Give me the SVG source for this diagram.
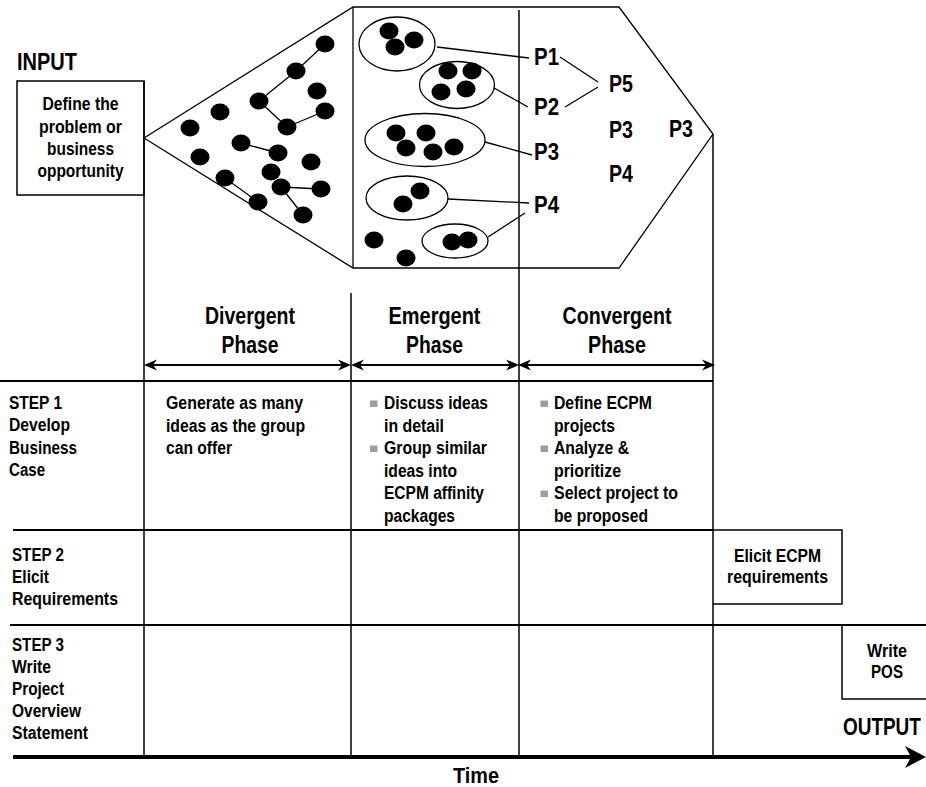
<svg xmlns="http://www.w3.org/2000/svg" width="926" height="787" viewBox="0 0 926 787">
<defs>
<style>
text { font-family: "Liberation Sans", Arial, sans-serif; font-weight: bold; fill: #000; }
.b { font-size: 18px; }
.big { font-size: 24px; }
.p { font-size: 23px; }
.c { text-anchor: middle; }
.ln { stroke: #000; stroke-width: 1.5; fill: none; }
.hl { stroke: #000; stroke-width: 2; fill: none; }
.th { stroke: #000; stroke-width: 1.3; fill: none; }
.arr { stroke: #000; stroke-width: 2; fill: none; marker-start: url(#ah); marker-end: url(#ah); }
.dot { fill: #000; }
.bul { fill: #9e9e9e; }
</style>
<marker id="ah" viewBox="-14 -6 15 12" refX="-3" refY="0" markerWidth="15" markerHeight="12" markerUnits="userSpaceOnUse" orient="auto-start-reverse">
<path d="M0,0 L-13,-5.5 L-9,0 L-13,5.5 Z" fill="#000"/>
</marker>
</defs>
<rect width="926" height="787" fill="#fff"/>

<g id="grid">
<line class="ln" x1="144" y1="81" x2="144" y2="757"/>
<line class="ln" x1="351" y1="293" x2="351" y2="757"/>
<line class="ln" x1="519" y1="10" x2="519" y2="757"/>
<line class="ln" x1="713" y1="134" x2="713" y2="757"/>
<line class="hl" x1="0" y1="381" x2="713" y2="381"/>
<line class="hl" x1="13" y1="530" x2="713" y2="530"/>
<line class="hl" x1="10" y1="625" x2="926" y2="625"/>
</g>

<g id="funnel">
<polyline class="th" points="144,138 353,7 619,7 713,134 619,268 353,268 144,138"/>
<line class="th" x1="353" y1="7" x2="353" y2="268"/>
</g>

<g id="divergent-ideas">
<g class="th">
<line x1="325" y1="44" x2="296" y2="71"/>
<line x1="296" y1="71" x2="259" y2="101"/>
<line x1="259" y1="101" x2="287" y2="127"/>
<line x1="287" y1="127" x2="325" y2="111"/>
<line x1="241" y1="143" x2="278" y2="153"/>
<line x1="225" y1="178" x2="258" y2="202"/>
<line x1="281" y1="187" x2="321" y2="189"/>
<line x1="281" y1="187" x2="303" y2="215"/>
</g>
<g class="dot">
<ellipse cx="325" cy="44" rx="9.5" ry="8.5"/>
<ellipse cx="296" cy="71" rx="9.5" ry="8.5"/>
<ellipse cx="317" cy="91" rx="9.5" ry="8.5"/>
<ellipse cx="259" cy="101" rx="9.5" ry="8.5"/>
<ellipse cx="325" cy="111" rx="9.5" ry="8.5"/>
<ellipse cx="220" cy="112" rx="9.5" ry="8.5"/>
<ellipse cx="190" cy="128" rx="9.5" ry="8.5"/>
<ellipse cx="287" cy="127" rx="9.5" ry="8.5"/>
<ellipse cx="241" cy="143" rx="9.5" ry="8.5"/>
<ellipse cx="278" cy="153" rx="9.5" ry="8.5"/>
<ellipse cx="200" cy="157" rx="9.5" ry="8.5"/>
<ellipse cx="311" cy="162" rx="9.5" ry="8.5"/>
<ellipse cx="271" cy="172" rx="9.5" ry="8.5"/>
<ellipse cx="225" cy="178" rx="9.5" ry="8.5"/>
<ellipse cx="281" cy="187" rx="9.5" ry="8.5"/>
<ellipse cx="321" cy="189" rx="9.5" ry="8.5"/>
<ellipse cx="258" cy="202" rx="9.5" ry="8.5"/>
<ellipse cx="303" cy="215" rx="9.5" ry="8.5"/>
</g>
</g>

<g id="emergent-groups">
<g class="th">
<ellipse cx="397" cy="44" rx="38" ry="27"/>
<ellipse cx="457" cy="85" rx="37.5" ry="23.5"/>
<ellipse cx="425" cy="140" rx="60" ry="26.5"/>
<ellipse cx="407" cy="198" rx="41" ry="22"/>
<ellipse cx="455" cy="241" rx="33" ry="17"/>
</g>
<g class="dot">
<ellipse cx="389" cy="31" rx="9.5" ry="8.5"/>
<ellipse cx="414" cy="40" rx="9.5" ry="8.5"/>
<ellipse cx="395" cy="47" rx="9.5" ry="8.5"/>
<ellipse cx="448" cy="71" rx="9.5" ry="8.5"/>
<ellipse cx="472" cy="71" rx="9.5" ry="8.5"/>
<ellipse cx="441" cy="92" rx="9.5" ry="8.5"/>
<ellipse cx="466" cy="89" rx="9.5" ry="8.5"/>
<ellipse cx="396" cy="133" rx="9.5" ry="8.5"/>
<ellipse cx="426" cy="133" rx="9.5" ry="8.5"/>
<ellipse cx="406" cy="148" rx="9.5" ry="8.5"/>
<ellipse cx="433" cy="152" rx="9.5" ry="8.5"/>
<ellipse cx="454" cy="147" rx="9.5" ry="8.5"/>
<ellipse cx="420" cy="191" rx="9.5" ry="8.5"/>
<ellipse cx="403" cy="204" rx="9.5" ry="8.5"/>
<ellipse cx="452" cy="242" rx="9.5" ry="8.5"/>
<ellipse cx="468" cy="240" rx="9.5" ry="8.5"/>
<ellipse cx="374" cy="240" rx="9.5" ry="8.5"/>
<ellipse cx="406" cy="258" rx="9.5" ry="8.5"/>
</g>
</g>

<g id="connectors">
<g class="th">
<line x1="437" y1="47" x2="529" y2="58"/>
<line x1="494" y1="88" x2="528" y2="107"/>
<line x1="485" y1="142" x2="532" y2="155"/>
<line x1="448" y1="199" x2="529" y2="203"/>
<line x1="488" y1="237" x2="525" y2="213"/>
<line x1="560" y1="57" x2="598" y2="82"/>
<line x1="565" y1="107" x2="598" y2="87"/>
</g>
<line class="arr" x1="147" y1="365" x2="348" y2="365"/>
<line class="arr" x1="354" y1="365" x2="516" y2="365"/>
<line class="arr" x1="521" y1="365" x2="712" y2="365"/>
<line x1="13" y1="757" x2="912" y2="757" stroke="#000" stroke-width="4"/>
<path d="M926,757 L905,746 L911,757 L905,768 Z" fill="#000"/>
</g>

<g id="p-labels">
<text class="p" x="534" y="65" textLength="25" lengthAdjust="spacingAndGlyphs">P1</text>
<text class="p" x="534" y="115" textLength="25" lengthAdjust="spacingAndGlyphs">P2</text>
<text class="p" x="534" y="160" textLength="25" lengthAdjust="spacingAndGlyphs">P3</text>
<text class="p" x="534" y="213" textLength="25" lengthAdjust="spacingAndGlyphs">P4</text>
<text class="p" x="609" y="92" textLength="24" lengthAdjust="spacingAndGlyphs">P5</text>
<text class="p" x="609" y="138" textLength="24" lengthAdjust="spacingAndGlyphs">P3</text>
<text class="p" x="609" y="182" textLength="24" lengthAdjust="spacingAndGlyphs">P4</text>
<text class="p" x="669" y="137" textLength="24" lengthAdjust="spacingAndGlyphs">P3</text>
</g>

<g id="input">
<text class="big" x="17" y="70" textLength="60" lengthAdjust="spacingAndGlyphs">INPUT</text>
<rect x="17" y="81" width="127" height="114" fill="none" stroke="#000" stroke-width="1.5"/>
<text class="b c" x="80.5" y="110" textLength="76" lengthAdjust="spacingAndGlyphs">Define the</text>
<text class="b c" x="80.5" y="132.5" textLength="83" lengthAdjust="spacingAndGlyphs">problem or</text>
<text class="b c" x="80.5" y="155" textLength="67" lengthAdjust="spacingAndGlyphs">business</text>
<text class="b c" x="80.5" y="177" textLength="86" lengthAdjust="spacingAndGlyphs">opportunity</text>
</g>

<g id="phase-divergent">
<text class="big c" x="250" y="324" textLength="90" lengthAdjust="spacingAndGlyphs">Divergent</text>
<text class="big c" x="250" y="353" textLength="57" lengthAdjust="spacingAndGlyphs">Phase</text>
</g>
<g id="phase-emergent">
<text class="big c" x="434.5" y="324" textLength="92" lengthAdjust="spacingAndGlyphs">Emergent</text>
<text class="big c" x="434.5" y="353" textLength="57" lengthAdjust="spacingAndGlyphs">Phase</text>
</g>
<g id="phase-convergent">
<text class="big c" x="617" y="324" textLength="109" lengthAdjust="spacingAndGlyphs">Convergent</text>
<text class="big c" x="617" y="353" textLength="58" lengthAdjust="spacingAndGlyphs">Phase</text>
</g>

<g id="step1">
<text class="b" x="9" y="409" textLength="53" lengthAdjust="spacingAndGlyphs">STEP 1</text>
<text class="b" x="9" y="431" textLength="61" lengthAdjust="spacingAndGlyphs">Develop</text>
<text class="b" x="9" y="453.5" textLength="68" lengthAdjust="spacingAndGlyphs">Business</text>
<text class="b" x="9" y="476" textLength="36" lengthAdjust="spacingAndGlyphs">Case</text>
</g>
<g id="step2">
<text class="b" x="12" y="561" textLength="52" lengthAdjust="spacingAndGlyphs">STEP 2</text>
<text class="b" x="12" y="583" textLength="37" lengthAdjust="spacingAndGlyphs">Elicit</text>
<text class="b" x="12" y="605" textLength="106" lengthAdjust="spacingAndGlyphs">Requirements</text>
</g>
<g id="step3">
<text class="b" x="12" y="651" textLength="52" lengthAdjust="spacingAndGlyphs">STEP 3</text>
<text class="b" x="12" y="673" textLength="39" lengthAdjust="spacingAndGlyphs">Write</text>
<text class="b" x="12" y="695" textLength="52" lengthAdjust="spacingAndGlyphs">Project</text>
<text class="b" x="12" y="717" textLength="69" lengthAdjust="spacingAndGlyphs">Overview</text>
<text class="b" x="12" y="739" textLength="76" lengthAdjust="spacingAndGlyphs">Statement</text>
</g>

<g id="divergent-task">
<text class="b" x="166" y="409" textLength="137" lengthAdjust="spacingAndGlyphs">Generate as many</text>
<text class="b" x="166" y="431.5" textLength="139" lengthAdjust="spacingAndGlyphs">ideas as the group</text>
<text class="b" x="166" y="454" textLength="66" lengthAdjust="spacingAndGlyphs">can offer</text>
</g>

<g id="emergent-task">
<rect class="bul" x="370" y="400.5" width="7.5" height="6.5"/>
<rect class="bul" x="370" y="445.5" width="7.5" height="6.5"/>
<text class="b" x="384" y="409" textLength="104" lengthAdjust="spacingAndGlyphs">Discuss ideas</text>
<text class="b" x="384" y="431.5" textLength="60" lengthAdjust="spacingAndGlyphs">in detail</text>
<text class="b" x="384" y="454" textLength="103" lengthAdjust="spacingAndGlyphs">Group similar</text>
<text class="b" x="384" y="476.5" textLength="73" lengthAdjust="spacingAndGlyphs">ideas into</text>
<text class="b" x="384" y="499" textLength="100" lengthAdjust="spacingAndGlyphs">ECPM affinity</text>
<text class="b" x="384" y="521.5" textLength="71" lengthAdjust="spacingAndGlyphs">packages</text>
</g>

<g id="convergent-task">
<rect class="bul" x="540.5" y="400.5" width="7.5" height="6.5"/>
<rect class="bul" x="540.5" y="445.5" width="7.5" height="6.5"/>
<rect class="bul" x="540.5" y="490.5" width="7.5" height="6.5"/>
<text class="b" x="554" y="409" textLength="98" lengthAdjust="spacingAndGlyphs">Define ECPM</text>
<text class="b" x="554" y="431.5" textLength="61" lengthAdjust="spacingAndGlyphs">projects</text>
<text class="b" x="554" y="454" textLength="75" lengthAdjust="spacingAndGlyphs">Analyze &amp;</text>
<text class="b" x="554" y="476.5" textLength="67" lengthAdjust="spacingAndGlyphs">prioritize</text>
<text class="b" x="554" y="499" textLength="124" lengthAdjust="spacingAndGlyphs">Select project to</text>
<text class="b" x="554" y="521.5" textLength="94" lengthAdjust="spacingAndGlyphs">be proposed</text>
</g>

<g id="elicit">
<polyline class="ln" points="713,530 842,530 842,604 713,604"/>
<text class="b c" x="777.5" y="562" textLength="87" lengthAdjust="spacingAndGlyphs">Elicit ECPM</text>
<text class="b c" x="777.5" y="583" textLength="101" lengthAdjust="spacingAndGlyphs">requirements</text>
</g>

<g id="write-pos">
<polyline class="ln" points="842,625 842,699 926,699"/>
<text class="b c" x="887" y="657" textLength="40" lengthAdjust="spacingAndGlyphs">Write</text>
<text class="b c" x="887" y="678" textLength="32" lengthAdjust="spacingAndGlyphs">POS</text>
</g>

<g id="output" transform="translate(843,735) scale(0.79,1)">
<text class="big" x="0" y="0">OUTPUT</text>
</g>

<g id="time">
<text class="big c" x="476" y="783" textLength="46" lengthAdjust="spacingAndGlyphs" style="font-size:22px">Time</text>
</g>
</svg>
